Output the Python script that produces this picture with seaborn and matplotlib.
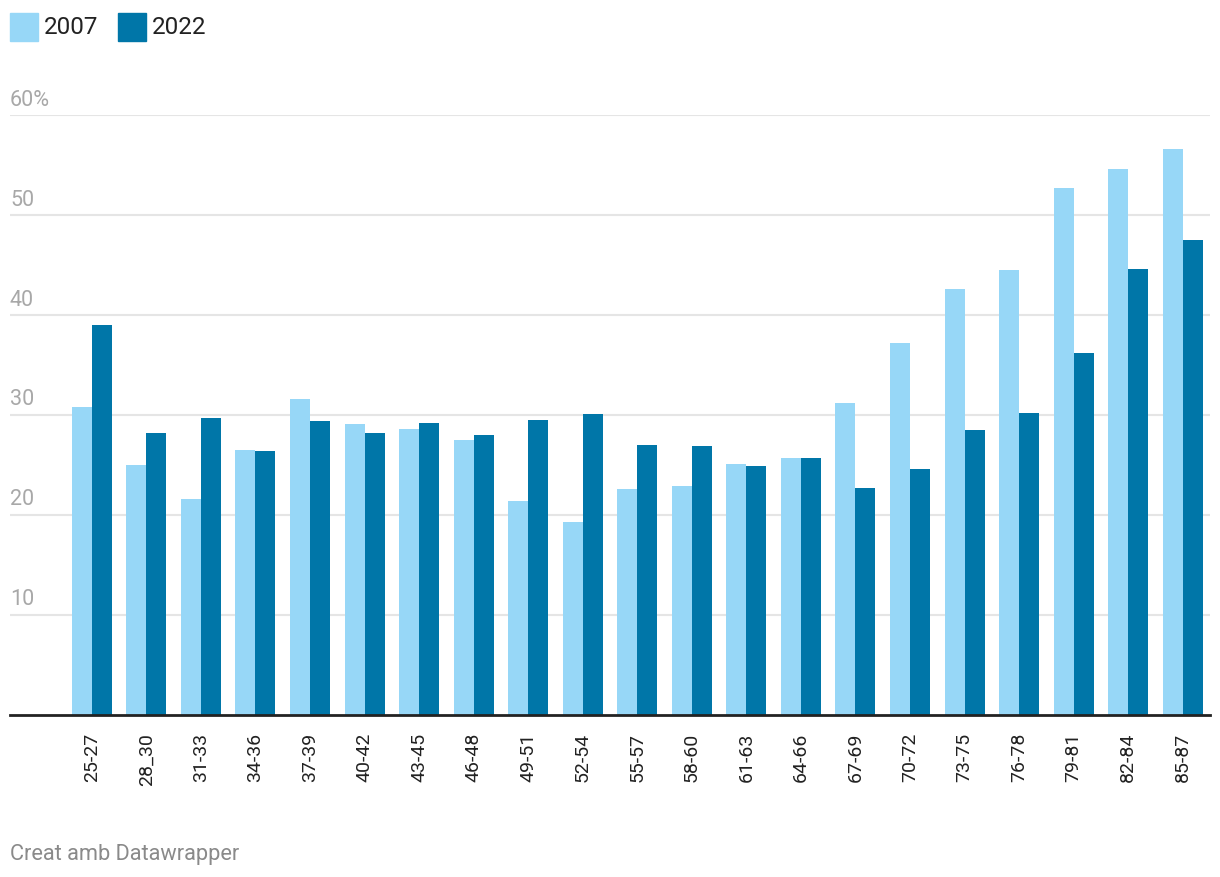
import pandas as pd
import matplotlib
matplotlib.use("Agg")
import matplotlib.pyplot as plt
import matplotlib.transforms as mtransforms
import seaborn as sns

# age groups and shares (%) for both years
groups = ["25-27", "28_30", "31-33", "34-36", "37-39", "40-42", "43-45",
          "46-48", "49-51", "52-54", "55-57", "58-60", "61-63", "64-66",
          "67-69", "70-72", "73-75", "76-78", "79-81", "82-84", "85-87"]
vals_2007 = [30.8, 25.0, 21.6, 26.5, 31.6, 29.1, 28.6, 27.5, 21.4, 19.3, 22.6,
             22.9, 25.1, 25.7, 31.2, 37.2, 42.6, 44.5, 52.7, 54.6, 56.6]
vals_2022 = [39.0, 28.2, 29.7, 26.4, 29.4, 28.2, 29.2, 28.0, 29.5, 30.1, 27.0,
             26.9, 24.9, 25.7, 22.7, 24.6, 28.5, 30.2, 36.2, 44.6, 47.5]
years = ["2007", "2022"]
colors = ["#97d7f7", "#0076a8"]
yticks = [10, 20, 30, 40, 50, 60]

df = pd.DataFrame({
    "group": groups * 2,
    "year": [years[0]] * len(groups) + [years[1]] * len(groups),
    "value": vals_2007 + vals_2022,
})

sns.set_style("white")
plt.rcParams["font.family"] = ["Roboto", "DejaVu Sans"]

W, H = 1220, 878
fig = plt.figure(figsize=(W / 100, H / 100), dpi=100)
ax = fig.add_axes([10 / W, (H - 716) / H, 1200 / W, 600 / H])

sns.barplot(data=df, x="group", y="value", hue="year", palette=colors,
            width=0.733, gap=0, saturation=1, ax=ax, legend=False,
            linewidth=0, zorder=3)

ax.set_xlim(-1.5, 20.5)
ax.set_ylim(0, 60)
for s in ["top", "right", "left"]:
    ax.spines[s].set_visible(False)
ax.spines["bottom"].set_color("#222222")
ax.spines["bottom"].set_linewidth(2)
ax.spines["bottom"].set_zorder(5)

ax.set_yticks([])
for v in yticks:
    ax.axhline(v, color="#e5e5e5", lw=1.5, zorder=1)
trans = mtransforms.blended_transform_factory(ax.transAxes, ax.transData)
for v in yticks:
    lab = f"{v}%" if v == yticks[-1] else str(v)
    ax.text(0, v + 0.55, lab, transform=trans, ha="left", va="bottom",
            fontsize=15.5, color="#a8a8a8", clip_on=False)

ax.set_xlabel("")
ax.set_ylabel("")
ax.tick_params(axis="x", length=0, pad=12, labelsize=14, labelcolor="#222222")
plt.setp(ax.get_xticklabels(), rotation=90, va="top", ha="center")

# legend squares
for i, (yr, c) in enumerate(zip(years, colors)):
    x0 = 10 + i * 108
    fig.patches.append(plt.Rectangle((x0 / W, (H - 42) / H), 28 / W, 28 / H,
                                     transform=fig.transFigure, color=c))
    fig.text((x0 + 34) / W, (H - 27) / H, yr, fontsize=17.5, color="#222222",
             va="center", ha="left")

fig.text(10 / W, (H - 855) / H, "Creat amb Datawrapper", fontsize=15.7,
         color="#8a8a8a", va="center", ha="left")

fig.savefig("out.png", dpi=100)
